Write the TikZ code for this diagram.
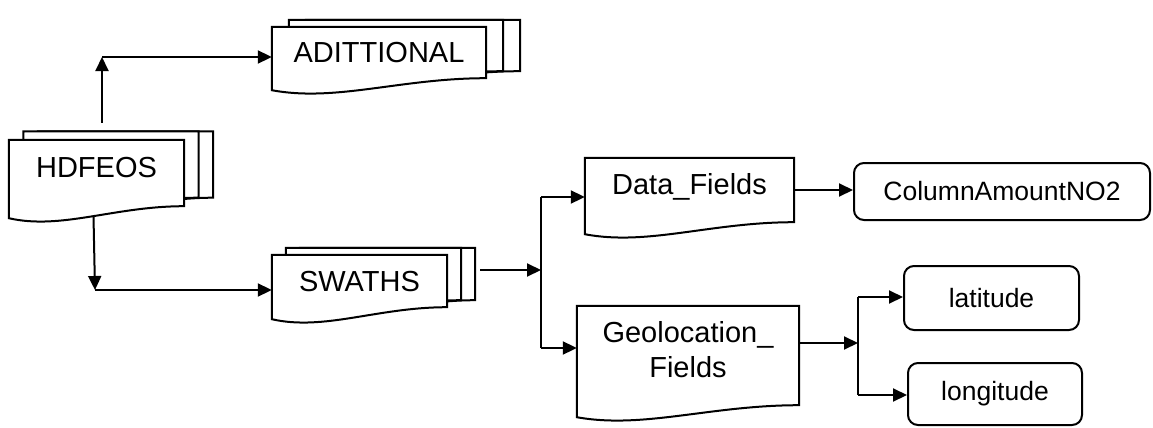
\documentclass[tikz,border=0pt]{standalone}
\usepackage{fontspec}
\setmainfont{Liberation Sans}
\usetikzlibrary{calc,backgrounds,arrows.meta}
\tikzset{
	docbox/.style={draw=none, inner sep=0pt, align=center, text depth=12pt, font=\fontsize{29}{35}\selectfont},
	docline/.style={line width=2pt, fill=white, line join=miter},
	leafbox/.style={draw, line width=2pt, rounded corners=10pt, inner sep=0pt, font=\fontsize{26.5}{32}\selectfont},
	arr/.style={line width=2pt, -{Triangle[length=14pt,width=13pt]}},
	wire/.style={line width=2pt}
}
% document outline round a named node, moved by an offset
\def\docshape(#1)(#2){\draw[docline] ($(#1.north west)+(#2)$) -- ($(#1.north east)+(#2)$) -- ($(#1.south east)+(#2)$) .. controls ($(#1.south east)!0.4!(#1.south west)+(#2)$) and ($(#1.south west)!0.3!(#1.south east)+(#2)+(0,24)$) .. ($(#1.south west)+(#2)+(0,12)$) -- cycle;}
\def\stackdoc(#1)(#2){\docshape(#1)(2*#2)\docshape(#1)(#2)\docshape(#1)(0,0)}

\begin{document}
\begin{tikzpicture}[x=1pt, y=-1pt]
			%%%%% START %%%%%
			\useasboundingbox (0,0) rectangle (1153,428);
			
			\node[docbox, minimum width=175pt, minimum height=66pt] (hdf) at (96.5,173) {HDFEOS};
			\node[docbox, text depth=0pt, minimum width=214pt, minimum height=51pt] (adit) at (379,52.5) {ADITTIONAL};
			\node[docbox, text depth=0pt, minimum width=175pt, minimum height=52pt] (swaths) at (359.5,281) {SWATHS};
			\node[docbox, minimum width=209pt, minimum height=64pt] (data) at (689.5,190) {Data\_Fields};
			\node[docbox, minimum width=222pt, minimum height=99pt] (geo) at (688,355.5) {Geolocation\_\\Fields};
			
			\node[leafbox, minimum width=296pt, minimum height=57pt] (col) at (1002,191.5) {ColumnAmountNO2};
			\node[leafbox, minimum width=175pt, minimum height=64pt] (lat) at (991.5,298) {latitude};
			\node[leafbox, minimum width=174pt, minimum height=62pt] (lon) at (995,394) {longitude};
			
			\begin{scope}[on background layer]
				\stackdoc(hdf)({(14.5,-8.5)})
				\stackdoc(adit)({(17,-7)})
				\stackdoc(swaths)({(14,-7)})
				\docshape(data)(0,0)
				\docshape(geo)(0,0)
			\end{scope}
			
			\coordinate (upc) at (102,57);
			\coordinate (dnc) at (95,290);
			\draw[arr] ($(hdf.north)+(5.5,-17)$) -- (upc);
			\draw[arr] (upc) -- (upc -| adit.west);
			\draw[arr] ($(hdf.south)+(-3,10)$) -- (dnc);
			\draw[arr] (dnc) -- (dnc -| swaths.west);
			
			\coordinate (br1) at (541,270);
			\coordinate (bt) at (541,197);
			\coordinate (bb) at (541,348);
			\draw[arr] ($(swaths.east)+(33,-11)$) -- (br1);
			\draw[wire] (bt) -- (bb);
			\draw[arr] (bt) -- (bt -| data.west);
			\draw[arr] (bb) -- (bb -| geo.west);
			
			\draw[arr] (data.east) -- (data.east -| col.west);
			
			\coordinate (gc) at (858,343);
			\coordinate (gt) at (858,297);
			\coordinate (gb) at (858,395);
			\draw[arr] (gc -| geo.east) -- (gc);
			\draw[wire] (gt) -- (gb);
			\draw[arr] (gt) -- (gt -| lat.west);
			\draw[arr] (gb) -- (gb -| lon.west);
			
			%%%%% END %%%%%
\end{tikzpicture}
\end{document}
